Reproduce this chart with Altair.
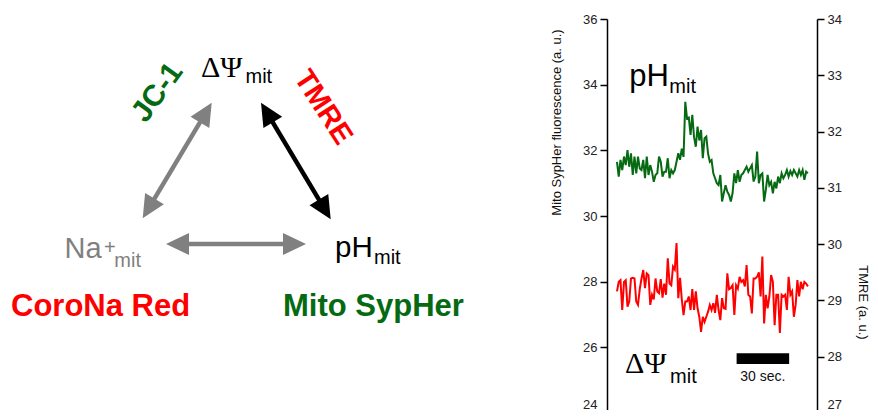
import math
import altair as alt
import pandas as pd

# ---------------- data ----------------
# Mito SypHer trace (left axis, a.u.), ~1 s per sample
sypher = [
    31.65, 31.20, 31.71, 31.40, 31.81, 31.55, 32.01, 31.50, 31.91, 31.25,
    31.81, 31.30, 31.81, 31.45, 31.40, 31.71, 31.15, 31.81, 31.25, 31.55,
    31.35, 31.04, 31.25, 31.30, 31.81, 31.65, 31.20, 31.35, 31.35, 31.76,
    31.15, 31.40, 31.30, 31.40, 31.65, 31.91, 31.71, 32.05, 31.80, 33.48,
    32.97, 33.00, 32.47, 33.08, 32.40, 32.11, 32.72, 32.30, 32.62, 31.76,
    32.37, 32.42, 31.90, 31.65, 31.70, 31.30, 31.15, 31.00, 30.94, 31.25,
    30.44, 30.70, 30.94, 30.74, 30.64, 30.44, 30.70, 31.30, 31.00, 31.40,
    31.04, 31.25, 31.30, 31.40, 31.50, 31.35, 31.45, 31.55, 31.05, 31.20,
    31.96, 31.00, 31.25, 31.30, 30.44, 30.80, 31.25, 30.94, 31.04, 30.69,
    31.04, 30.84, 31.20, 31.00, 31.30, 31.15, 31.25, 31.40, 31.20, 31.37,
    31.25, 31.40, 31.30, 31.20, 31.40, 31.25, 31.40, 31.10, 31.35, 31.30,
]
# TMRE trace (right axis, a.u.)
tmre = [
    29.16, 29.33, 29.36, 28.83, 29.33, 29.36, 28.89, 28.98, 29.39, 29.40,
    29.39, 28.98, 28.92, 29.20, 29.39, 29.54, 29.22, 29.48, 29.45, 28.92,
    29.10, 29.02, 29.39, 29.16, 29.13, 29.38, 29.05, 29.30, 29.10, 29.75,
    29.30, 29.27, 29.60, 29.55, 30.02, 29.04, 29.40, 29.02, 28.74, 28.98,
    28.98, 29.07, 28.83, 29.20, 28.83, 29.16, 28.86, 28.71, 28.44, 28.71,
    28.62, 28.71, 28.80, 28.92, 28.83, 28.95, 28.78, 29.10, 28.83, 28.65,
    29.04, 28.86, 28.85, 29.48, 29.20, 29.22, 29.27, 28.74, 29.27, 29.21,
    29.42, 29.33, 29.36, 29.25, 29.63, 29.10, 29.07, 28.77, 29.39, 29.39,
    29.42, 29.50, 29.07, 29.78, 28.59, 29.10, 28.86, 29.07, 29.45, 29.33,
    28.56, 29.10, 29.10, 28.42, 29.10, 29.07, 29.10, 28.83, 29.42, 29.10,
    29.16, 28.71, 28.92, 29.36, 29.07, 29.33, 29.20, 29.33, 29.30, 29.25,
]
time_s = list(range(len(sypher)))

left_ticks = [24, 26, 28, 30, 32, 34, 36]
right_ticks = [27, 28, 29, 30, 31, 32, 33, 34]
scale_bar_sec = 30

SANS = "Liberation Sans"
SERIF = "Liberation Serif"
GREEN = "#056a12"
RED = "#ff0000"
GRAY = "#808080"
BLACK = "#000000"

# plot-area box of the trace panel, in figure pixels (page origin at 8,8)
PX0, PX1, PY0, PY1 = 607, 817, 19, 413
W, H = PX1 - PX0, PY1 - PY0

# ---------------- schematic (figure-pixel coordinates through linear scales) ----------------
dx_scale = alt.Scale(domain=[PX0, PX1], nice=False, zero=False)
dy_scale = alt.Scale(domain=[PY0, PY1], reverse=True, nice=False, zero=False)

def dxy(xf="x", yf="y"):
    return dict(x=alt.X(f"{xf}:Q", scale=dx_scale, axis=None),
                y=alt.Y(f"{yf}:Q", scale=dy_scale, axis=None))

arrows = pd.DataFrame({
    "ax": [211.7, 261.0, 166.0],
    "ay": [102.7, 102.7, 244.0],
    "bx": [142.7, 330.7, 306.0],
    "by": [218.3, 219.3, 244.0],
    "col": [GRAY, BLACK, GRAY],
})
HEAD = 23.0
shafts, heads = [], []
for r in arrows.itertuples():
    vx, vy = r.bx - r.ax, r.by - r.ay
    L = math.hypot(vx, vy)
    ux, uy = vx / L, vy / L
    shafts.append({"x": r.ax + ux * (HEAD - 3), "y": r.ay + uy * (HEAD - 3),
                   "x2": r.bx - ux * (HEAD - 3), "y2": r.by - uy * (HEAD - 3), "col": r.col})
    for tx, ty, sx, sy in [(r.ax, r.ay, -ux, -uy), (r.bx, r.by, ux, uy)]:
        cx, cy = tx - sx * HEAD / 2, ty - sy * HEAD / 2
        ang = math.degrees(math.atan2(sx, -sy)) % 360
        heads.append({"x": cx, "y": cy, "ang": ang, "col": r.col})
shaft_df = pd.DataFrame(shafts)
head_df = pd.DataFrame(heads)

shaft_layer = alt.Chart(shaft_df).mark_rule(strokeWidth=4.5, strokeCap="butt").encode(
    **dxy(), x2="x2:Q", y2="y2:Q", color=alt.Color("col:N", scale=None))
head_layer = alt.Chart(head_df).mark_point(
    shape="M0,-1L0.95,1L-0.95,1Z", filled=True, opacity=1, strokeWidth=0, size=HEAD * HEAD
).encode(**dxy(), angle=alt.Angle("ang:Q", scale=None), color=alt.Color("col:N", scale=None))

serif_lbl = pd.DataFrame({"x": [201.0], "y": [77.0], "t": ["ΔΨ"], "col": [BLACK], "s": [30]})
sans_lbl = pd.DataFrame({
    "x": [245.5, 64.5, 104.0, 114.3, 335.0, 374.0],
    "y": [83.0, 258.0, 254.0, 267.3, 257.0, 263.5],
    "t": ["mit", "Na", "+", "mit", "pH", "mit"],
    "col": [BLACK, GRAY, GRAY, GRAY, BLACK, BLACK],
    "s": [20, 29, 20, 20, 29.5, 20],
})
bold_lbl = pd.DataFrame({
    "x": [11.0, 283.0], "y": [316.0, 316.0],
    "t": ["CoroNa Red", "Mito SypHer"], "col": [RED, GREEN], "s": [31, 31],
})
rot_lbl = pd.DataFrame({
    "x": [157.5, 323.3], "y": [92.5, 107.3], "t": ["JC-1", "TMRE"],
    "col": [GREEN, RED], "s": [30, 29], "ang": [306, 57],
})

def text_layer(df, font, weight="normal", align="left", baseline="alphabetic", rot=False):
    enc = dict(**dxy(), text="t:N", color=alt.Color("col:N", scale=None),
               size=alt.Size("s:Q", scale=None))
    if rot:
        enc["angle"] = alt.Angle("ang:Q", scale=None)
    return alt.Chart(df).mark_text(font=font, fontWeight=weight, align=align,
                                   baseline=baseline).encode(**enc)

# ---------------- traces ----------------
df = pd.DataFrame({"t": time_s, "sypher": sypher, "tmre": tmre})
xsc = alt.Scale(domain=[-5.7, 114.2], nice=False, zero=False)
lsc = alt.Scale(domain=[24, 36], nice=False, zero=False)
rsc = alt.Scale(domain=[27, 34], nice=False, zero=False)
X = alt.X("t:Q", scale=xsc, axis=None)

axis_style = dict(domainColor="black", domainWidth=1.5, tickColor="black", tickWidth=1.5,
                  tickSize=7, labelPadding=3, labelFont=SANS, labelFontSize=13,
                  labelColor="#222222", titleFont=SANS, titleFontSize=13,
                  titleFontWeight="normal", titleColor="#111111", grid=False)

def low_label(v):
    # keep the lowest tick label inside the picture, as in the cropped reference
    return dict(
        labelBaseline={"condition": {"test": f"datum.value === {v}", "value": "bottom"},
                       "value": "middle"},
        labelOffset={"condition": {"test": f"datum.value === {v}", "value": -2}, "value": 0},
    )

g_line = alt.Chart(df).mark_line(color=GREEN, strokeWidth=2).encode(
    x=X, y=alt.Y("sypher:Q", scale=lsc,
                 axis=alt.Axis(values=left_ticks, title="Mito SypHer fluorescence (a. u.)",
                               titlePadding=19, titleY=103, **low_label(24), **axis_style)))
r_line = alt.Chart(df).mark_line(color=RED, strokeWidth=2).encode(
    x=X, y=alt.Y("tmre:Q", scale=rsc,
                 axis=alt.Axis(values=right_ticks, title="TMRE (a. u.)", orient="right",
                               titlePadding=14, titleY=283, **low_label(27), **axis_style)))

ann_sans = pd.DataFrame({"t": [7.0, 29.9, 30.3], "v": [33.96, 33.75, 24.91],
                         "txt": ["pH", "mit", "mit"], "s": [31, 20, 20]})
ann_serif = pd.DataFrame({"t": [4.6], "v": [25.22], "txt": ["ΔΨ"], "s": [30]})
bar_df = pd.DataFrame({"t0": [68.3], "t1": [68.3 + scale_bar_sec], "v0": [25.49], "v1": [25.82],
                       "tc": [68.3 + scale_bar_sec / 2], "vt": [24.98],
                       "lab": [f"{scale_bar_sec} sec."]})

def ann_layer(d, font):
    return alt.Chart(d).mark_text(font=font, align="left", baseline="alphabetic", color=BLACK).encode(
        x=X, y=alt.Y("v:Q", scale=lsc, axis=None), text="txt:N", size=alt.Size("s:Q", scale=None))

bar_layer = alt.Chart(bar_df).mark_rect(color=BLACK).encode(
    x=alt.X("t0:Q", scale=xsc, axis=None), x2="t1:Q",
    y=alt.Y("v0:Q", scale=lsc, axis=None), y2="v1:Q")
bar_text = alt.Chart(bar_df).mark_text(font=SANS, fontSize=14, align="center",
                                       baseline="alphabetic", color="#111111").encode(
    x=alt.X("tc:Q", scale=xsc, axis=None), y=alt.Y("vt:Q", scale=lsc, axis=None), text="lab:N")

chart = alt.layer(
    g_line, r_line,
    ann_layer(ann_sans, SANS), ann_layer(ann_serif, SERIF), bar_layer, bar_text,
    shaft_layer, head_layer,
    text_layer(serif_lbl, SERIF),
    text_layer(sans_lbl, SANS),
    text_layer(bold_lbl, SANS, "bold"),
    text_layer(rot_lbl, SANS, "bold", "center", "middle", rot=True),
).resolve_scale(x="independent", y="independent").properties(
    width=W, height=H,
    autosize=alt.AutoSizeParams(type="none"),
    padding={"left": PX0 - 8, "top": PY0 - 8, "right": 870 - PX1, "bottom": 410 - PY1},
).configure_view(stroke=None)

chart.save("out.html", embed_options={"renderer": "svg", "actions": False})
